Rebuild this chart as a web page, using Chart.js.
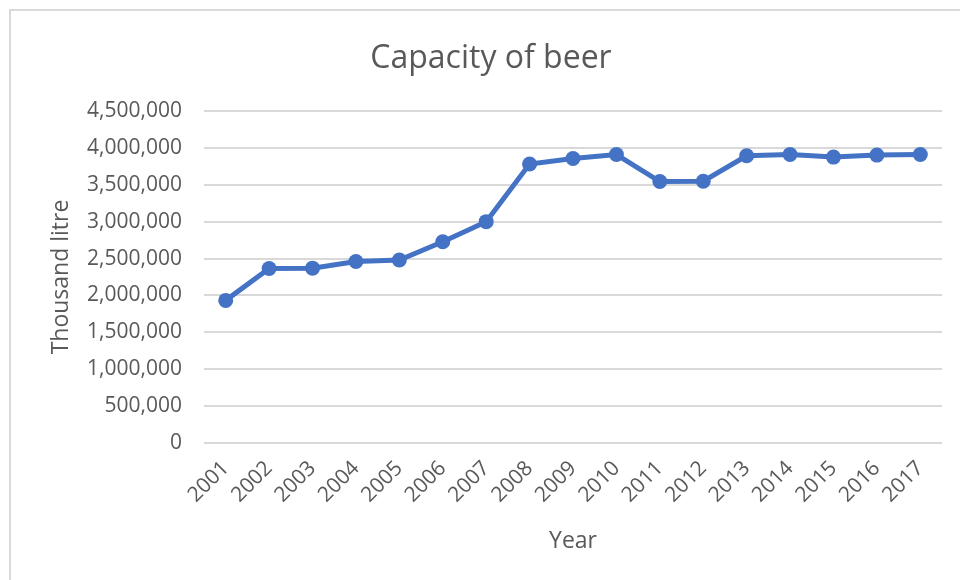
<!DOCTYPE html>
<html>
<head>
<meta charset="utf-8">
<script src="https://cdn.jsdelivr.net/npm/chart.js@4/dist/chart.umd.min.js"></script>
<style>
  html, body { margin: 0; padding: 0; background: #ffffff; }
  #wrap { position: relative; width: 960px; height: 580px; overflow: hidden; }
  #frame { position: absolute; left: 9px; top: 9px; width: 960px; height: 600px;
           border-left: 2px solid #d9d9d9; border-top: 2px solid #d9d9d9; box-sizing: border-box; }
  canvas { position: absolute; left: 0; top: 0; }
</style>
</head>
<body>
<div id="wrap">
  <div id="frame"></div>
  <canvas id="c" width="960" height="580"></canvas>
</div>
<script>
const years = ['2001','2002','2003','2004','2005','2006','2007','2008','2009','2010','2011','2012','2013','2014','2015','2016','2017'];
const capacity = [1933000, 2365000, 2370000, 2460000, 2480000, 2728000, 3000000, 3781000, 3857000, 3910000, 3544000, 3548000, 3893000, 3910000, 3875000, 3902000, 3910000];
const chartTitle = 'Capacity of beer';
const yTitle = 'Thousand litre';
const xTitle = 'Year';

const FONT = '"Open Sans", "Noto Sans", sans-serif';
const TXT = '#595959';

new Chart(document.getElementById('c'), {
  type: 'line',
  data: {
    labels: years,
    datasets: [{
      data: capacity,
      borderColor: '#4472C4',
      backgroundColor: '#4472C4',
      borderWidth: 5,
      pointRadius: 7.5,
      pointHoverRadius: 7.5,
      pointBackgroundColor: '#4472C4',
      pointBorderColor: '#4472C4',
      pointBorderWidth: 0,
      tension: 0,
      fill: false
    }]
  },
  options: {
    responsive: false,
    animation: false,
    devicePixelRatio: 1,
    layout: { padding: { left: 40, right: 18, top: 12, bottom: 23 } },
    plugins: {
      legend: { display: false },
      tooltip: { enabled: false },
      title: {
        display: true,
        text: chartTitle,
        color: TXT,
        font: { family: FONT, size: 32, weight: 'normal' },
        padding: { top: 28, bottom: 32.6 }
      }
    },
    scales: {
      x: {
        offset: true,
        grid: { display: false, drawTicks: false },
        border: { display: false },
        ticks: {
          color: TXT,
          font: { family: FONT, size: 21 },
          minRotation: 45,
          maxRotation: 45,
          padding: 13,
          autoSkip: false
        },
        title: {
          display: true,
          text: xTitle,
          color: TXT,
          font: { family: FONT, size: 23 },
          padding: { top: 0, bottom: 2 }
        },
        afterFit: (s) => { s.height = 114; }
      },
      y: {
        min: 0,
        max: 4500000,
        grid: { color: '#d9d9d9', lineWidth: 2, drawTicks: false },
        border: { display: false },
        ticks: {
          stepSize: 500000,
          color: TXT,
          font: { family: FONT, size: 21 },
          padding: 22,
          callback: (v) => Number(v).toLocaleString('en-US')
        },
        title: {
          display: true,
          text: yTitle,
          color: TXT,
          font: { family: FONT, size: 23 },
          padding: { top: 8, bottom: 0 }
        },
        afterFit: (s) => { s.width = 164; }
      }
    }
  }
});
</script>
</body>
</html>
